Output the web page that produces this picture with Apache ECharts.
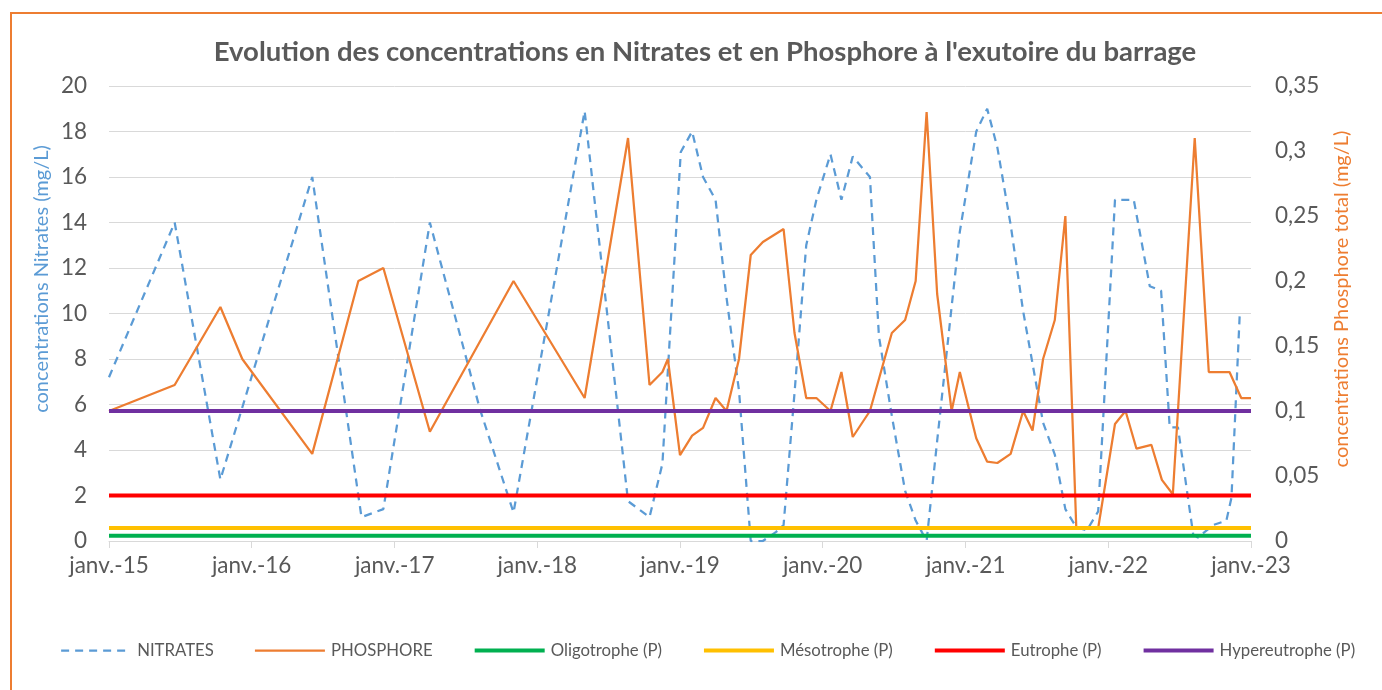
<!DOCTYPE html>
<html>
<head>
<meta charset="utf-8">
<script src="https://cdn.jsdelivr.net/npm/echarts@6/dist/echarts.min.js"></script>
<style>
html,body{margin:0;padding:0;background:#ffffff;}
#chart{width:1382px;height:690px;}
</style>
</head>
<body>
<div id="chart"></div>
<script>
// ---- Data ----
const titleText = "Evolution des concentrations en Nitrates et en Phosphore à l'exutoire du barrage";
const leftAxisName = "concentrations Nitrates (mg/L)";
const rightAxisName = "concentrations Phosphore total (mg/L)";

const nitratesDates = [
  '2015-01-01','2015-06-18','2015-10-13','2016-06-04','2016-10-08','2016-12-03',
  '2017-04-01','2017-08-07','2017-11-01','2018-05-02','2018-08-21','2018-10-15',
  '2018-11-17','2018-12-01','2019-01-03','2019-02-01','2019-03-01','2019-04-02',
  '2019-04-30','2019-06-01','2019-07-01','2019-08-01','2019-09-04','2019-09-23',
  '2019-10-21','2019-11-20','2019-12-16','2020-01-21','2020-02-18','2020-03-18',
  '2020-05-01','2020-05-24','2020-06-26','2020-07-30','2020-08-26','2020-09-23',
  '2020-10-20','2020-11-26','2020-12-17','2021-01-28','2021-02-25','2021-03-23',
  '2021-04-26','2021-05-28','2021-06-21','2021-07-18','2021-08-17','2021-09-13',
  '2021-10-11','2021-11-07','2021-12-06','2022-01-18','2022-03-07','2022-04-17',
  '2022-05-16','2022-06-07','2022-06-28','2022-08-06','2022-08-18','2022-09-26',
  '2022-10-30','2022-11-12','2022-12-03','2022-12-16'
];
const nitratesValues = [
  7.2, 14.0, 2.7, 16.0, 1.05, 1.4,
  14.0, 5.8, 1.25, 18.9, 1.75, 1.05,
  3.4, 7.5, 17.1, 18.0, 16.0, 15.0,
  10.7, 6.6, 0.0, 0.0, 0.4, 0.7,
  6.5, 13.0, 15.0, 17.0, 15.0, 16.9,
  16.0, 9.0, 5.5, 2.2, 0.9, 0.0,
  4.4, 10.3, 13.6, 18.0, 19.0, 17.3,
  13.9, 10.1, 7.8, 5.2, 3.8, 1.4,
  0.6, 0.47, 1.3, 15.0, 15.0, 11.2,
  11.0, 5.0, 5.0, 0.3, 0.15, 0.7,
  0.9, 1.9, 9.9, 9.9
];

const phosphoreDates = [
  '2015-01-01','2015-06-18','2015-10-13','2015-12-08','2016-06-04','2016-09-30',
  '2016-12-03','2017-04-01','2017-11-01','2018-05-02','2018-08-21','2018-10-15',
  '2018-11-17','2018-12-01','2019-01-01','2019-02-01','2019-03-01','2019-04-02',
  '2019-04-30','2019-06-01','2019-07-01','2019-08-01','2019-09-23','2019-10-21',
  '2019-11-20','2019-12-16','2020-01-21','2020-02-18','2020-03-18','2020-05-01',
  '2020-06-26','2020-07-30','2020-08-26','2020-09-23','2020-10-20','2020-11-26',
  '2020-12-17','2021-01-28','2021-02-25','2021-03-23','2021-04-26','2021-05-28',
  '2021-06-21','2021-07-18','2021-08-17','2021-09-13','2021-10-11','2021-12-06',
  '2022-01-18','2022-02-14','2022-03-14','2022-04-21','2022-05-18','2022-06-15',
  '2022-08-10','2022-09-15','2022-11-07','2022-12-07','2023-01-01'
];
const phosphoreValues = [
  0.100, 0.120, 0.180, 0.140, 0.067, 0.200,
  0.210, 0.084, 0.200, 0.110, 0.310, 0.120,
  0.130, 0.140, 0.066, 0.081, 0.087, 0.110,
  0.100, 0.140, 0.220, 0.230, 0.240, 0.160,
  0.110, 0.110, 0.100, 0.130, 0.080, 0.100,
  0.160, 0.170, 0.200, 0.330, 0.190, 0.100,
  0.130, 0.079, 0.061, 0.060, 0.067, 0.100,
  0.085, 0.140, 0.170, 0.250, 0.010, 0.010,
  0.090, 0.100, 0.071, 0.074, 0.047, 0.036,
  0.310, 0.130, 0.130, 0.110, 0.110
];

const thresholdDates = ['2015-01-01', '2023-01-01'];
const thresholdNames = ['Oligotrophe (P)', 'Mésotrophe (P)', 'Eutrophe (P)', 'Hypereutrophe (P)'];
const thresholdValues = [0.004, 0.01, 0.035, 0.1];
const thresholdColors = ['#00B050', '#FFC000', '#FF0000', '#7030A0'];

const xStart = '2015-01-01';
const xEnd = '2023-01-01';
const leftMin = 0, leftMax = 20, leftStep = 2;
const rightMin = 0, rightMax = 0.35, rightStep = 0.05;

// ---- Build ----
const FONT = 'Lato, "Open Sans", sans-serif';
const GREY = '#595959';
function pairs(dates, values) { return dates.map((d, i) => [d, values[i]]); }
function toTs(s) { const p = s.split('-').map(Number); return new Date(p[0], p[1] - 1, p[2]).getTime(); }
const DAY = 86400000;

const series = [
  {
    name: 'NITRATES', type: 'line', yAxisIndex: 0,
    data: pairs(nitratesDates, nitratesValues),
    symbol: 'none', showSymbol: false,
    lineStyle: { color: '#5B9BD5', width: 2.25, type: [8, 6] },
    itemStyle: { color: '#5B9BD5' }
  },
  {
    name: 'PHOSPHORE', type: 'line', yAxisIndex: 1,
    data: pairs(phosphoreDates, phosphoreValues),
    symbol: 'none', showSymbol: false,
    lineStyle: { color: '#ED7D31', width: 2.25 },
    itemStyle: { color: '#ED7D31' }
  }
];
thresholdNames.forEach((n, i) => {
  series.push({
    name: n, type: 'line', yAxisIndex: 1,
    data: thresholdDates.map(d => [d, thresholdValues[i]]),
    symbol: 'none', showSymbol: false,
    lineStyle: { color: thresholdColors[i], width: 4 },
    itemStyle: { color: thresholdColors[i] }
  });
});

const chart = echarts.init(document.getElementById('chart'), null, { renderer: 'canvas' });
chart.setOption({
  animation: false,
  backgroundColor: '#ffffff',
  title: {
    text: titleText,
    left: 700, textAlign: 'center', top: 33,
    textStyle: { fontFamily: FONT, fontWeight: 'bold', fontSize: 27.5, color: GREY }
  },
  grid: { left: 109, right: 131, top: 86, bottom: 149, containLabel: false },
  legend: {
    left: 60, top: 642, padding: 0,
    itemWidth: 70, itemHeight: 14, itemGap: 40,
    itemStyle: { opacity: 0 },
    lineStyle: { width: 'inherit', type: 'inherit' },
    textStyle: { fontFamily: FONT, fontSize: 16.75, color: GREY, padding: [0, 0, 0, 1] },
    data: ['NITRATES', 'PHOSPHORE'].concat(thresholdNames)
  },
  xAxis: {
    type: 'time',
    min: toTs(xStart), max: toTs(xEnd),
    minInterval: 365 * DAY, maxInterval: 366 * DAY,
    axisLine: { show: true, onZero: false, lineStyle: { color: '#D9D9D9', width: 1 } },
    axisTick: { show: true, length: 7, lineStyle: { color: '#D9D9D9' } },
    splitLine: { show: false },
    axisLabel: {
      fontFamily: FONT, fontSize: 22.5, color: GREY, margin: 13,
      showMinLabel: true, showMaxLabel: true, hideOverlap: false,
      formatter: function (v) {
        const d = new Date(v + 12 * 3600000);
        return 'janv.-' + String(d.getFullYear() % 100).padStart(2, '0');
      }
    }
  },
  yAxis: [
    {
      type: 'value', min: leftMin, max: leftMax, interval: leftStep,
      axisLine: { show: false }, axisTick: { show: false },
      splitLine: { show: true, lineStyle: { color: '#D9D9D9', width: 1 } },
      axisLabel: { fontFamily: FONT, fontSize: 22.5, color: GREY, margin: 22 }
    },
    {
      type: 'value', min: rightMin, max: rightMax, interval: rightStep,
      axisLine: { show: false }, axisTick: { show: false },
      splitLine: { show: false },
      axisLabel: {
        fontFamily: FONT, fontSize: 22.5, color: GREY, margin: 24,
        formatter: function (v) { return String(+v.toFixed(2)).replace('.', ','); }
      }
    }
  ],
  graphic: [
    {
      type: 'rect', silent: true, z: 100,
      shape: { x: 11, y: 13, width: 1400, height: 700 },
      style: { fill: 'none', stroke: '#ED7D31', lineWidth: 2 }
    },
    {
      type: 'text', silent: true, x: 42, y: 279, rotation: Math.PI / 2,
      style: { text: leftAxisName, fill: '#5B9BD5', font: '20px ' + FONT, align: 'center', verticalAlign: 'middle' }
    },
    {
      type: 'text', silent: true, x: 1342, y: 299, rotation: Math.PI / 2,
      style: { text: rightAxisName, fill: '#ED7D31', font: '20px ' + FONT, align: 'center', verticalAlign: 'middle' }
    }
  ],
  series: series
});
</script>
</body>
</html>
